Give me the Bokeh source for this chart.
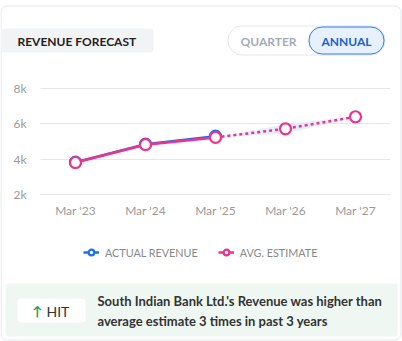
from bokeh.plotting import figure
from bokeh.models import (Range1d, FixedTicker, Label, BoxAnnotation,
                          Legend, LegendItem, ColumnDataSource, LinearAxis)
from bokeh.embed import file_html
from bokeh.resources import INLINE

# ---- data ----
categories = ["Mar '23", "Mar '24", "Mar '25", "Mar '26", "Mar '27"]
actual_revenue = [3830, 4850, 5300]
avg_estimate = [3810, 4820, 5230, 5720, 6400]
estimate_low = [5230, 5450, 6360]
estimate_high = [5230, 5980, 6440]
y_ticks = [2000, 4000, 6000, 8000]
y_tick_labels = ["2k", "4k", "6k", "8k"]
legend_labels = ["ACTUAL REVENUE", "AVG. ESTIMATE"]

FONT = "Lato"
BLUE = "#1f6feb"
PINK = "#f0328c"

W, H = 402, 341
FL, FR, FT, FB = 40, 390, 88, 194  # plot-area edges in canvas px

# ranges chosen so that the whole canvas is the frame, and the plot area sits at FL..FR, FT..FB
n_cat = len(categories)
band_px = (FR - FL) / n_cat
x_start = -0.5 - FL / band_px
x_end = x_start + W / band_px
px_per_unit = (FB - FT) / (y_ticks[-1] - y_ticks[0])
y_start = y_ticks[0] - (H - FB) / px_per_unit
y_end = y_ticks[-1] + FT / px_per_unit

p = figure(width=W, height=H, output_backend="svg", toolbar_location=None,
           x_range=Range1d(x_start, x_end), y_range=Range1d(y_start, y_end),
           x_axis_type=None, y_axis_type=None, min_border=0)
p.outline_line_color = None
p.grid.visible = False
p.background_fill_color = "white"
p.border_fill_color = "white"

# ---- axes (drawn at fixed positions inside the full-canvas frame) ----
cat_idx = list(range(n_cat))
xaxis = LinearAxis(ticker=FixedTicker(ticks=cat_idx),
                   major_label_overrides=dict(zip(cat_idx, categories)),
                   fixed_location=y_ticks[0], bounds=(-0.5, n_cat - 0.5))
xaxis.axis_line_color = "#ccd6eb"
xaxis.major_tick_line_color = None
xaxis.minor_tick_line_color = None
xaxis.major_tick_out = 0
xaxis.major_tick_in = 0
xaxis.major_label_standoff = 8
xaxis.major_label_text_font = FONT
xaxis.major_label_text_font_size = "12px"
xaxis.major_label_text_color = "#9a9a9a"

yaxis = LinearAxis(ticker=FixedTicker(ticks=y_ticks),
                   major_label_overrides=dict(zip(y_ticks, y_tick_labels)),
                   fixed_location=-0.5, bounds=(y_ticks[0], y_ticks[-1]))
yaxis.axis_line_color = None
yaxis.major_tick_line_color = "#e6e6e6"
yaxis.major_tick_line_width = 1
yaxis.minor_tick_line_color = None
yaxis.major_tick_out = 0
yaxis.major_tick_in = FR - FL  # ticks run across the plot area as grid lines
yaxis.major_label_standoff = 14
yaxis.major_label_text_font = FONT
yaxis.major_label_text_font_size = "12px"
yaxis.major_label_text_color = "#9a9a9a"
yaxis.level = "underlay"
xaxis.level = "underlay"
p.add_layout(yaxis, "left")
p.add_layout(xaxis, "below")


def sx(cx):
    return cx


def sy(cy):
    return H - cy


def box(l, t, r, b, fill=None, line=None, radius=0):
    bx = BoxAnnotation(left=sx(l), right=sx(r), top=sy(t), bottom=sy(b),
                       left_units="screen", right_units="screen",
                       top_units="screen", bottom_units="screen",
                       fill_color=fill if fill else "white", fill_alpha=1 if fill else 0,
                       line_color=line if line else "white", line_alpha=1 if line else 0,
                       line_width=1, border_radius=radius)
    p.add_layout(bx)
    return bx


def lab(text, cx, cy, size, color, bold=False, align="left"):
    lb = Label(x=sx(cx), y=sy(cy), x_units="screen", y_units="screen", text=text,
               text_font=FONT, text_font_size=f"{size}px", text_color=color,
               text_font_style="bold" if bold else "normal",
               text_align=align, text_baseline="middle")
    p.add_layout(lb)
    return lb


# ---- card & header ----
box(0.5, 5.5, 400.5, 339.5, fill=None, line="#e4e6ea", radius=6)
box(0.5, 28, 153, 52, fill="#f2f3f5", radius=4)
box(227.5, 25.5, 384.5, 54.5, fill="white", line="#e3e6ec", radius=14)
box(308.5, 26.5, 383.5, 53.5, fill="#e7f0fd", line="#2f7bf5", radius=13)
lab("REVENUE FORECAST", 17, 40.5, 12, "#222222", bold=True)
lab("QUARTER", 240, 40.5, 12, "#a3abbb", bold=True)
lab("ANNUAL", 321, 40.5, 12, "#1a5fd6", bold=True)

# ---- data marks ----
n_act = len(actual_revenue)
act_x = cat_idx[:n_act]
fc_x = cat_idx[n_act - 1:]
band_src = ColumnDataSource(dict(x=fc_x, lo=estimate_low, hi=estimate_high))
p.varea(x="x", y1="lo", y2="hi", source=band_src, fill_color="#dfe9fb", fill_alpha=0.8)

act_line = p.line(act_x, actual_revenue, line_color=BLUE, line_width=2.5)
act_pts = p.scatter(act_x, actual_revenue, size=11, marker="circle",
                    fill_color="white", line_color=BLUE, line_width=2.2)
est_line = p.line(act_x, avg_estimate[:n_act], line_color=PINK, line_width=2.5)
p.line(fc_x, avg_estimate[n_act - 1:], line_color=PINK, line_width=2.5, line_dash="3 3")
est_pts = p.scatter(cat_idx, avg_estimate, size=11, marker="circle",
                    fill_color="white", line_color=PINK, line_width=2.2)

# ---- legend ----
legend = Legend(items=[LegendItem(label=legend_labels[0], renderers=[act_line, act_pts]),
                       LegendItem(label=legend_labels[1], renderers=[est_line, est_pts])],
                orientation="horizontal", location=(83, H - 259),
                glyph_width=16, glyph_height=14, label_standoff=6, spacing=20,
                padding=0, margin=0, border_line_alpha=0, background_fill_alpha=0,
                label_text_font=FONT, label_text_font_size="10.8px",
                label_text_color="#888888", label_height=14)
p.add_layout(legend)

# ---- bottom note ----
box(5, 283, 397, 336, fill="#eff7f2", radius=3)
box(17, 298, 85, 322, fill="white", radius=4)
lab("↑", 37, 310, 13, "#1e9e5a", bold=True, align="center")
lab("HIT", 46, 310.5, 14, "#333333")
lab("South Indian Bank Ltd.'s Revenue was higher than", 97, 300.5, 13, "#333333", bold=True)
lab("average estimate 3 times in past 3 years", 97, 320, 13, "#333333", bold=True)

open("out.html", "w").write(file_html(p, INLINE))
